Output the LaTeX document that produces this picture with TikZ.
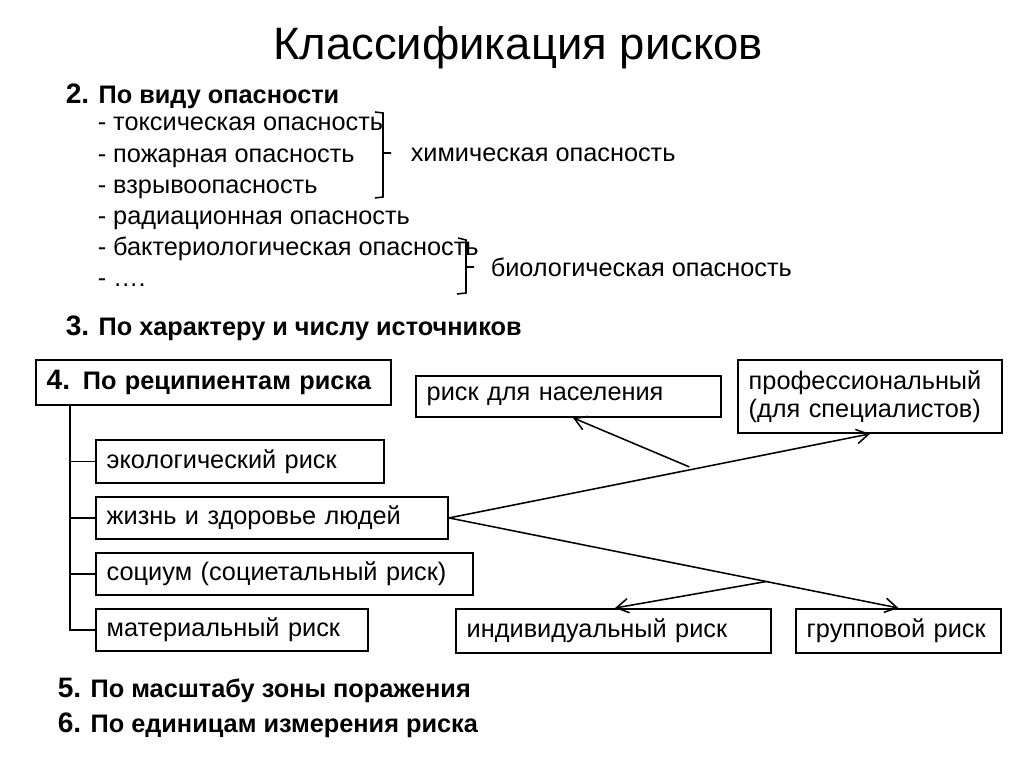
\documentclass[tikz,border=0pt]{standalone}
\usepackage{fontspec}
\setmainfont{Liberation Sans}
\usetikzlibrary{positioning, arrows.meta, calc}
\newcommand{\headnum}[1]{{\fontsize{20}{22}\selectfont #1}}
\tikzset{
  risks/.style={
	x=0.025cm, y=-0.025cm, % one unit is one pixel of the slide
	line width=1.1pt,
	>={Straight Barb[length=3mm, width=3.6mm]}, % open arrow heads
	every node/.style={inner sep=0pt, font=\fontsize{18}{20}\selectfont},
	box/.style={draw, line width=1.3pt, anchor=north west, align=left, inner xsep=0.27cm}, % framed class
	item/.style={anchor=base west}, % one line of the list
	head/.style={anchor=base west, font=\fontsize{18}{20}\selectfont\bfseries}, % numbered heading
  }
}

\begin{document}
\begin{tikzpicture}[risks]
\useasboundingbox (0,0) rectangle (1024,767);
\node[anchor=base, font=\fontsize{32.3}{36}\selectfont] (title) at (518,60) {Классификация рисков};
% 2. by kind of hazard
\node[head] (kind) at (65,104) {\headnum{2.} По виду опасности};
\node[item] (tox) at (97,131) {- токсическая опасность};
\node[item, below=0.775cm of tox.base west, anchor=base west] (fire) {- пожарная опасность};
\node[item, below=0.775cm of fire.base west, anchor=base west] (expl) {- взрывоопасность};
\node[item, below=0.775cm of expl.base west, anchor=base west] (rad) {- радиационная опасность};
\node[item, below=0.775cm of rad.base west, anchor=base west] (bact) {- бактериологическая опасность};
\node[item, below=0.775cm of bact.base west, anchor=base west] (dots) {- \dots.};
\node[item] (chem) at (410,162) {химическая опасность};
\node[item] (bio) at (490,277) {биологическая опасность};
\draw (375,112) -- (383,113) -- (383,197) -- (375,198) (383,153) -- (391,153);
\draw (458,238) -- (466,240) -- (466,293) -- (457,294) (466,267) -- (474,267);
% 3.
\node[head] (src) at (65,335) {\headnum{3.} По характеру и числу источников};
% 4. by recipients
\node[box, minimum width=8.875cm, text width=8.335cm, minimum height=1.125cm, font=\fontsize{18}{20}\selectfont\bfseries] (rec) at (35,359) {\headnum{4.} По реципиентам риска};
\node[box, minimum width=7.2cm, text width=6.66cm, minimum height=1.075cm] (eco) at (95,439) {экологический риск};
\node[box, minimum width=8.8cm, text width=8.26cm, minimum height=1.05cm] (life) at (95,496) {жизнь и здоровье людей};
\node[box, minimum width=9.425cm, text width=8.885cm, minimum height=1.05cm] (soc) at (95,552) {социум (социетальный риск)};
\node[box, minimum width=6.8cm, text width=6.26cm, minimum height=1.05cm] (mat) at (95,608) {материальный риск};
\node[box, minimum width=7.625cm, text width=7.085cm, minimum height=1.025cm] (pop) at (415,375) {риск для населения};
\node[box, minimum width=6.6cm, text width=6.06cm, minimum height=1.825cm] (prof) at (737,359) {профессиональный\\(для специалистов)};
\node[box, minimum width=7.875cm, text width=7.335cm, minimum height=1.1cm] (ind) at (455,608) {индивидуальный риск};
\node[box, minimum width=5.125cm, text width=4.585cm, minimum height=1.1cm] (grp) at (795,608) {групповой риск};
\coordinate (stem) at ($(rec.south west)+(35,0)$);
\draw (stem) |- (mat.west);
\foreach \b in {eco, life, soc}
	\draw (stem |- \b.west) -- (\b.west);
\draw[->] (life.east) -- coordinate[pos=0.571] (up) ($(prof.south west)+(133,0)$);
\draw[->] (life.east) -- coordinate[pos=0.706] (down) (grp.north);
\draw[->] ($(up)+(0,-3)$) -- ($(pop.south west)+(158,0)$);
\draw[->] (down) -- ($(ind.north west)+(160,0)$);
% 5. and 6.
\node[head] (zone) at (57,697) {\headnum{5.} По масштабу зоны поражения};
\node[head] (unit) at (57,732) {\headnum{6.} По единицам измерения риска};
\end{tikzpicture}
\end{document}
